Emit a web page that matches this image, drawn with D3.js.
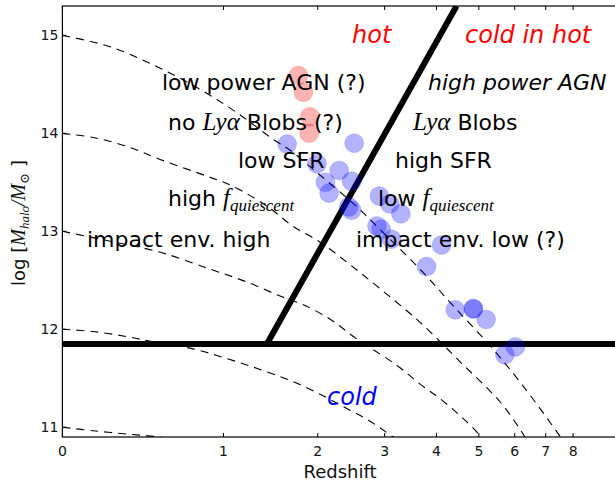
<!DOCTYPE html>
<html><head><meta charset="utf-8">
<script src="https://cdn.jsdelivr.net/npm/d3@7"></script>
<style>
html,body{margin:0;padding:0;background:#fff;}
svg{display:block;}
text{font-family:"DejaVu Sans",sans-serif;}
</style></head>
<body>
<script>
// ---- data ----
const xTicks = [0,1,2,3,4,5,6,7,8];
const yTicks = [11,12,13,14,15];

const redZ = [1.76,1.82,1.90,1.89];
const redM = [14.59,14.42,14.17,14.00];

const blueZ = [1.63,2.51,1.99,2.29,2.47,2.10,2.15,2.43,2.47,2.91,3.09,3.29,2.87,2.94,3.12,4.11,3.79,4.42,4.86,4.86,5.19,5.71,6.02];
const blueM = [13.89,13.90,13.69,13.62,13.51,13.50,13.39,13.25,13.215,13.36,13.28,13.18,13.055,13.02,12.92,12.86,12.64,12.20,12.21,12.21,12.10,11.74,11.82];

const track15Z = [0,0.227,0.503,0.807,1.12,1.475,1.66,1.99,2.55,2.92,3.72,4.37,5.30,6.26,7.40,7.6];
const track15M = [15,14.885,14.68,14.45,14.21,13.94,13.83,13.60,13.25,13.02,12.58,12.24,11.83,11.42,10.95,10.87];
const track14Z = [0,0.141,0.320,0.522,0.887,1.084,1.412,1.697,2.03,2.40,2.87,3.66,4.53,5.57,6.16,6.35];
const track14M = [14,13.958,13.867,13.734,13.551,13.459,13.256,13.052,12.889,12.685,12.44,12.07,11.67,11.26,10.98,10.88];
const track13Z = [0,0.227,0.522,0.887,1.213,1.551,1.82,2.16,2.55,3.22,3.66,4.08,4.53,4.95,5.05];
const track13M = [13,12.899,12.787,12.614,12.482,12.339,12.25,12.105,11.90,11.63,11.44,11.29,11.12,10.95,10.89];
const track12Z = [0,0.141,0.320,0.477,0.754,1.03,1.34,1.697,2.07,2.40,2.71,3.15,3.25];
const track12M = [12,11.977,11.925,11.871,11.80,11.70,11.59,11.465,11.32,11.19,11.08,10.90,10.86];
const track11Z = [0,0.141,0.320,0.489,0.6];
const track11M = [11,10.964,10.93,10.905,10.88];

const shockZ = [0,10];          // horizontal critical mass line
const shockM = [11.85,11.85];
const diagZ = [1.41,4.45];      // hot / cold-in-hot boundary
const diagM = [11.85,15.3];

// ---- layout ----
const W = 615, H = 485;
const L = 62.4, T = 6, B = 437;
const x = d3.scaleLog().domain([1,11]).range([L, L + 535.2*Math.log10(11)]);
const y = d3.scaleLinear().domain([10.9,15.3]).range([B, T]);
const R = x.range()[1];

const svg = d3.select("body").append("svg").attr("width",W).attr("height",H);
svg.append("defs").append("clipPath").attr("id","clip")
  .append("rect").attr("x",L).attr("y",T).attr("width",R-L).attr("height",B-T);
const plot = svg.append("g").attr("clip-path","url(#clip)");

const line = d3.line().x(d=>x(1+d[0])).y(d=>y(d[1])).curve(d3.curveCatmullRom.alpha(0.5));
const tracks = [[track15Z,track15M],[track14Z,track14M],[track13Z,track13M],[track12Z,track12M],[track11Z,track11M]];
tracks.forEach(([zs,ms])=>{
  plot.append("path").datum(zs.map((z,i)=>[z,ms[i]]))
    .attr("d",line).attr("fill","none").attr("stroke","#000")
    .attr("stroke-width",1.1).attr("stroke-dasharray","8,6");
});

const straight = d3.line().x(d=>x(1+d[0])).y(d=>y(d[1]));
plot.append("path").datum(shockZ.map((z,i)=>[z,shockM[i]])).attr("d",straight)
  .attr("stroke","#000").attr("stroke-width",6).attr("fill","none");
plot.append("path").datum(diagZ.map((z,i)=>[z,diagM[i]])).attr("d",straight)
  .attr("stroke","#000").attr("stroke-width",6).attr("fill","none");

// scatter
plot.selectAll("circle.red").data(redZ.map((z,i)=>[z,redM[i]])).enter().append("circle")
  .attr("cx",d=>x(1+d[0])).attr("cy",d=>y(d[1])).attr("r",9.5)
  .attr("fill","rgba(255,0,0,0.3)").attr("stroke","rgba(255,0,0,0.12)").attr("stroke-width",1);
plot.selectAll("circle.blue").data(blueZ.map((z,i)=>[z,blueM[i]])).enter().append("circle")
  .attr("cx",d=>x(1+d[0])).attr("cy",d=>y(d[1])).attr("r",9.5)
  .attr("fill","rgba(0,0,255,0.3)").attr("stroke","rgba(0,0,255,0.12)").attr("stroke-width",1);

// texts
const serif = '"Liberation Serif","DejaVu Serif",serif';
function label(xp, yp, parts, color){
  const t = svg.append("text").attr("x",xp).attr("y",yp).attr("fill",color||"#000").attr("font-size",22);
  parts.forEach(p=>{
    const s = t.append("tspan").text(p.t);
    if(p.it) s.attr("font-style","italic");
    if(p.serif) s.attr("font-family",serif).attr("font-size",p.fs||25).attr("font-style","italic");
    if(p.sub) s.attr("font-family",serif).attr("font-size",p.fs||17).attr("font-style","italic").attr("dy",5);
    if(p.fsz) s.attr("font-size",p.fsz);
  });
  return t;
}
label(352,43,[{t:"hot",it:1,fsz:24}],"#ff0000");
label(465,43,[{t:"cold in hot",it:1,fsz:24}],"#ff0000");
label(327,405,[{t:"cold",it:1,fsz:24}],"#0000ff");
label(162,90,[{t:"low power AGN (?)"}]);
label(428,90,[{t:"high power AGN",it:1}]);
label(168,130,[{t:"no "},{t:"Lyα",serif:1},{t:" Blobs (?)"}]);
label(413,130,[{t:"Lyα",serif:1},{t:" Blobs"}]);
label(238,168,[{t:"low SFR"}]);
label(395,168,[{t:"high SFR"}]);
label(168,206,[{t:"high "},{t:"f",serif:1},{t:"quiescent",sub:1}]);
label(378,206,[{t:"low "},{t:"f",serif:1},{t:"quiescent",sub:1}]);
label(87,247,[{t:"impact env. high"}]);
label(356,247,[{t:"impact env. low (?)"}]);

// axes frame
const ax = svg.append("g");
ax.append("rect").attr("x",L).attr("y",T).attr("width",R-L).attr("height",B-T)
  .attr("fill","none").attr("stroke","#000").attr("stroke-width",1.2);
xTicks.forEach(z=>{
  const xp = x(1+z);
  ax.append("line").attr("x1",xp).attr("x2",xp).attr("y1",B).attr("y2",B-4).attr("stroke","#000");
  ax.append("line").attr("x1",xp).attr("x2",xp).attr("y1",T).attr("y2",T+4).attr("stroke","#000");
  ax.append("text").attr("x",xp).attr("y",B+19).attr("text-anchor","middle").attr("font-size",14).attr("fill","#111").text(z);
});
yTicks.forEach(m=>{
  const yp = y(m);
  ax.append("line").attr("x1",L).attr("x2",L+4).attr("y1",yp).attr("y2",yp).attr("stroke","#000");
  ax.append("line").attr("x1",R).attr("x2",R-4).attr("y1",yp).attr("y2",yp).attr("stroke","#000");
  ax.append("text").attr("x",L-4).attr("y",yp+5).attr("text-anchor","end").attr("font-size",14).attr("fill","#111").text(m);
});
ax.append("text").attr("x",340).attr("y",478).attr("text-anchor","middle").attr("font-size",18).attr("fill","#111").text("Redshift");

const yl = ax.append("text").attr("transform","translate(25,223) rotate(-90)").attr("text-anchor","middle").attr("font-size",18).attr("fill","#111");
yl.append("tspan").text("log [");
yl.append("tspan").attr("font-family",serif).attr("font-style","italic").attr("font-size",20).text("M");
yl.append("tspan").attr("font-family",serif).attr("font-style","italic").attr("font-size",13).attr("dy",4).text("halo");
yl.append("tspan").attr("font-family",serif).attr("font-style","italic").attr("font-size",20).attr("dy",-4).text("/M");
yl.append("tspan").attr("font-family",serif).attr("font-size",13).attr("dy",4).text("⊙");
yl.append("tspan").attr("dy",-4).text(" ]");
</script>
</body></html>
